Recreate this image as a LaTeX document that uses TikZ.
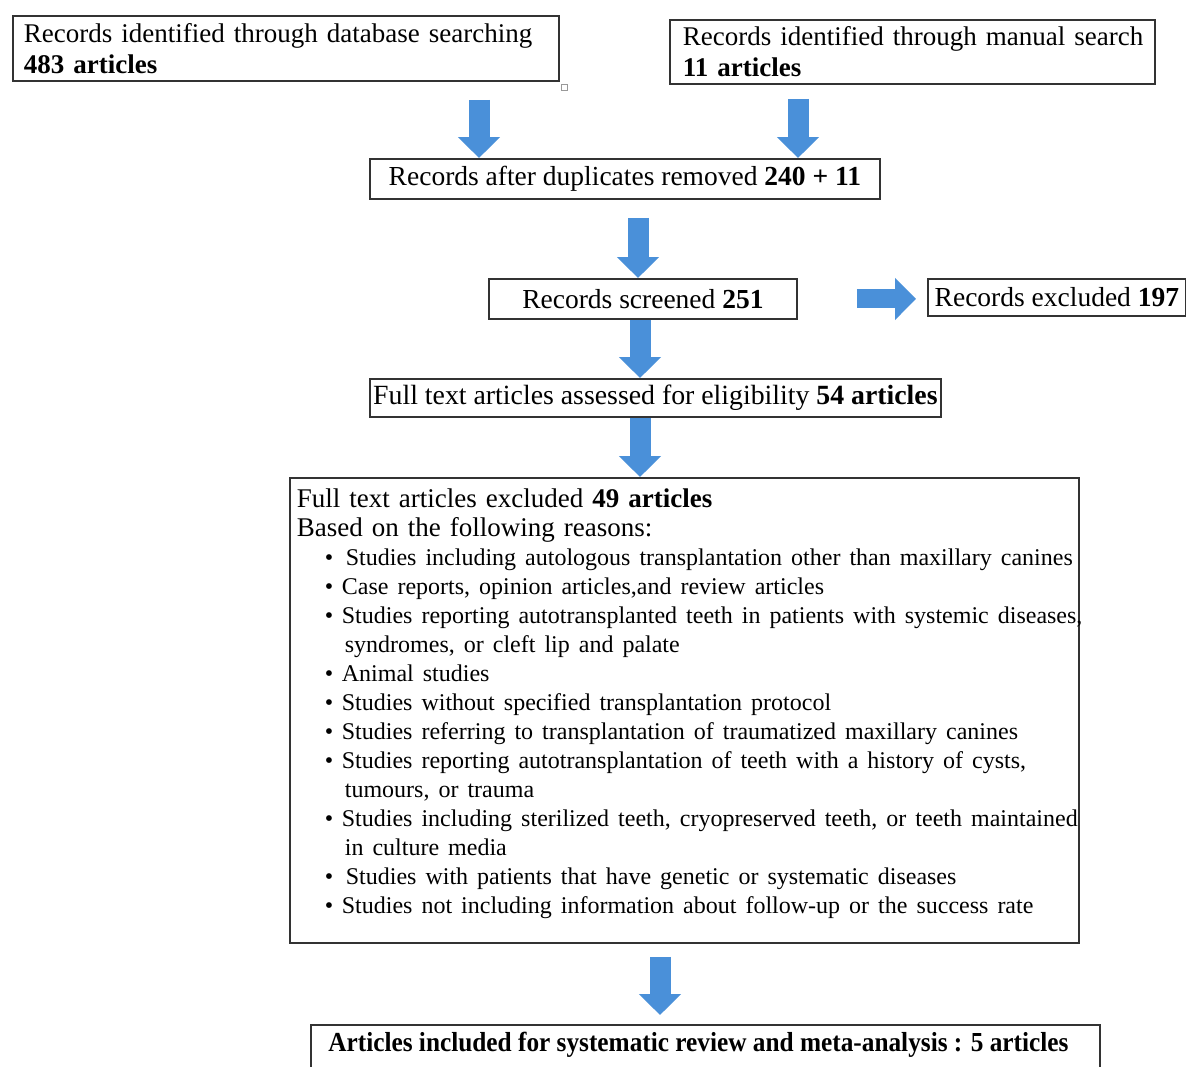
\documentclass[tikz,border=0pt]{standalone}
\usepackage{fontspec}
\usepackage{graphicx}
\setmainfont{Liberation Serif}
\usetikzlibrary{calc}
\usetikzlibrary{arrows.meta}
\usetikzlibrary{positioning}

\definecolor{arrowblue}{HTML}{4A90D9}
\newcommand{\bigtxt}{\fontsize{27.5}{29}\selectfont}
\newcommand{\midtxt}{\fontsize{27}{29}\selectfont}
\newcommand{\smtxt}{\fontsize{24}{29}\selectfont}
\newcommand{\itm}[2][17pt]{\mbox{\smtxt\hspace{28pt}\makebox[#1][l]{\textbullet}#2}}
\newcommand{\cnt}[1]{\mbox{\smtxt\hspace{48pt}#1}}

\tikzset{
  box/.style={draw=black!80, line width=1.8pt, inner xsep=10pt, inner ysep=0pt,
    font=\bigtxt, anchor=north west},
  blk/.style={arrowblue, line width=21pt, -{Triangle[length=21pt,width=41pt]}},
}

\begin{document}
\begin{tikzpicture}[x=1pt, y=-1pt]
\useasboundingbox (0,0) rectangle (1186,1066);

% boxes
\node[box, font=\midtxt, inner xsep=11pt, text width=524pt, minimum height=65pt, align=left] (db) at (12,15)
  {\mbox{Records identified through database searching}\\[2pt] \textbf{483 articles}};
\node[box, font=\midtxt, inner xsep=13pt, text width=459pt, minimum height=64pt, align=left] (ms) at (669,19)
  {\mbox{Records identified through manual search}\\[2pt] \textbf{11 articles}};
\node[box, minimum width=510pt, minimum height=40pt] (dup) at (369,158)
  {Records after duplicates removed \textbf{240 + 11}};
\node[box, minimum width=308pt, minimum height=40pt] (scr) at (488,278)
  {Records screened \textbf{251}};
\node[box, inner xsep=4pt, minimum width=258pt, minimum height=37pt] (exc) at (927,278)
  {Records excluded \textbf{197}};
\node[box, font=\fontsize{27.8}{29}\selectfont, minimum width=571pt, minimum height=38pt, inner xsep=2pt] (elig) at (369,378)
  {Full text articles assessed for eligibility \textbf{54 articles}};
\node[box, font=\midtxt, inner xsep=7pt, text width=775pt, minimum height=465pt, align=left] (ft) at (289,477)
  {Full text articles excluded \textbf{49 articles}\\
   Based on the following reasons:\\
   \itm[21pt]{Studies including autologous transplantation other than maxillary canines}\\
   \itm{Case reports, opinion articles,and review articles}\\
   \itm{Studies reporting autotransplanted teeth in patients with systemic diseases,}\\
   \cnt{syndromes, or cleft lip and palate}\\
   \itm{Animal studies}\\
   \itm{Studies without specified transplantation protocol}\\
   \itm{Studies referring to transplantation of traumatized maxillary canines}\\
   \itm{Studies reporting autotransplantation of teeth with a history of cysts,}\\
   \cnt{tumours, or trauma}\\
   \itm{Studies including sterilized teeth, cryopreserved teeth, or teeth maintained}\\
   \cnt{in culture media}\\
   \itm[21pt]{Studies with patients that have genetic or systematic diseases}\\
   \itm{Studies not including information about follow-up or the success rate}\rule[-19pt]{0pt}{1pt}};
\node[box, minimum width=789pt, inner ysep=7pt, text depth=50pt] (inc) at (310,1024)
  {\scalebox{0.92}[1]{\textbf{Articles included for systematic review and meta-analysis : 5 articles}}\rule{14pt}{0pt}};

% little handle left over at the corner of the first box
\draw[black!40, line width=0.8pt] ($(db.south east)+(2,3)$) rectangle ++(6,6);

% block arrows
\coordinate (aA) at ($(dup.north west)+(110,0)$);
\coordinate (aB) at ($(dup.north west)+(429,0)$);
\coordinate (aC) at ($(scr.north west)+(150,0)$);
\coordinate (aE) at ($(scr.south west)+(152,0)$);
\coordinate (aF) at ($(elig.north west)+(271,0)$);
\coordinate (aG) at ($(ft.south west)+(371,0)$);
\draw[blk, shorten <=18pt] (aA |- db.south) -- (aA);
\draw[blk, shorten <=14pt] (aB |- ms.south) -- (aB);
\draw[blk, shorten <=18pt] (aC |- dup.south) -- (aC);
\draw[blk, line width=19pt, shorten <=59pt, shorten >=11pt] (scr.east) -- (scr.east -| exc.west);
\draw[blk] (aE) -- (aE |- elig.north);
\draw[blk] (aF |- elig.south) -- (aF |- ft.north);
\draw[blk, shorten <=13pt, shorten >=9pt] (aG) -- (aG |- inc.north);
\end{tikzpicture}
\end{document}
